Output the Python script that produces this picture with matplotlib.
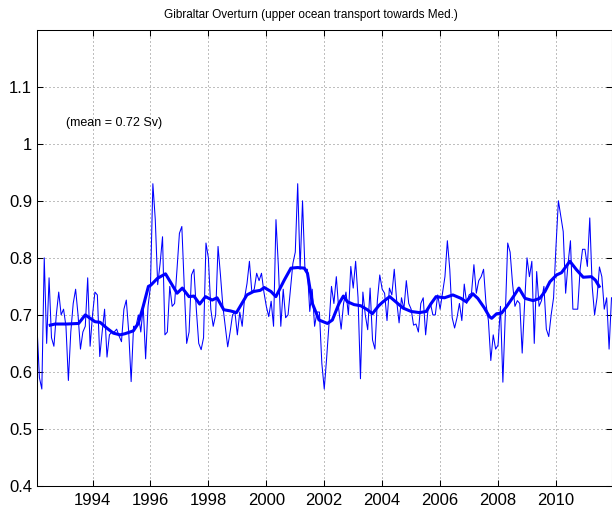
import numpy as np
import matplotlib
matplotlib.use("Agg")
import matplotlib.pyplot as plt

plt.rcParams['font.family'] = ['Liberation Sans', 'DejaVu Sans']

# Monthly upper-ocean transport towards the Mediterranean (Sv), Jan 1992 onwards
transport = [
    0.68, 0.59, 0.57, 0.80, 0.65, 0.765, 0.66, 0.645, 0.70, 0.74, 0.70, 0.71,
    0.68, 0.585, 0.67, 0.72, 0.745, 0.70, 0.64, 0.67, 0.68, 0.765, 0.645, 0.70,
    0.74, 0.735, 0.627, 0.67, 0.71, 0.626, 0.665, 0.67, 0.67, 0.675, 0.663, 0.653,
    0.71, 0.726, 0.67, 0.583, 0.68, 0.68, 0.70, 0.67, 0.715, 0.623, 0.715, 0.75,
    0.93, 0.867, 0.753, 0.79, 0.837, 0.665, 0.67, 0.75, 0.715, 0.72, 0.78, 0.843,
    0.855, 0.75, 0.65, 0.67, 0.77, 0.78, 0.71, 0.65, 0.639, 0.66, 0.826, 0.80,
    0.71, 0.68, 0.70, 0.82, 0.77, 0.715, 0.68, 0.644, 0.67, 0.70, 0.705, 0.665,
    0.705, 0.68, 0.73, 0.755, 0.794, 0.74, 0.745, 0.773, 0.76, 0.773, 0.74, 0.715,
    0.697, 0.724, 0.68, 0.867, 0.785, 0.68, 0.745, 0.695, 0.70, 0.745, 0.79, 0.81,
    0.93, 0.78, 0.90, 0.78, 0.78, 0.706, 0.745, 0.68, 0.705, 0.705, 0.615, 0.57,
    0.625, 0.686, 0.75, 0.72, 0.767, 0.71, 0.675, 0.72, 0.74, 0.70, 0.785, 0.747,
    0.794, 0.73, 0.588, 0.74, 0.70, 0.674, 0.747, 0.656, 0.64, 0.725, 0.77, 0.745,
    0.738, 0.69, 0.747, 0.735, 0.78, 0.725, 0.686, 0.73, 0.71, 0.76, 0.72, 0.71,
    0.682, 0.684, 0.67, 0.72, 0.73, 0.665, 0.71, 0.72, 0.70, 0.70, 0.735, 0.71,
    0.738, 0.767, 0.83, 0.78, 0.695, 0.677, 0.695, 0.72, 0.69, 0.754, 0.72, 0.735,
    0.738, 0.788, 0.738, 0.76, 0.767, 0.78, 0.72, 0.69, 0.62, 0.665, 0.64, 0.647,
    0.715, 0.582, 0.70, 0.826, 0.81, 0.755, 0.715, 0.725, 0.72, 0.633, 0.72, 0.80,
    0.767, 0.794, 0.65, 0.776, 0.715, 0.725, 0.75, 0.675, 0.662, 0.70, 0.73, 0.82,
    0.90, 0.873, 0.846, 0.738, 0.79, 0.83, 0.71, 0.71, 0.71, 0.78, 0.815, 0.815,
    0.785, 0.87, 0.75, 0.70, 0.73, 0.784, 0.767, 0.71, 0.73, 0.64, 0.73,
]
months = np.arange(1, len(transport) + 1)
time = 1992 + months / 12.0

# Low-pass (annual) transport
smooth_time = [
    1992.54, 1992.71, 1993.12, 1993.52, 1993.75, 1994.09, 1994.26, 1994.49,
    1994.72, 1994.95, 1995.12, 1995.41, 1995.58, 1995.75, 1995.93, 1996.01,
    1996.24, 1996.52, 1996.92, 1997.10, 1997.33, 1997.50, 1997.70, 1997.90,
    1998.13, 1998.30, 1998.53, 1998.76, 1998.97, 1999.33, 1999.56, 1999.79,
    1999.93, 2000.16, 2000.33, 2000.62, 2000.85, 2001.08, 2001.31, 2001.42,
    2001.59, 2001.82, 2002.11, 2002.28, 2002.51, 2002.66, 2002.80, 2003.03,
    2003.26, 2003.49, 2003.66, 2003.88, 2004.03, 2004.26, 2004.49, 2004.72,
    2005.00, 2005.29, 2005.52, 2005.69, 2005.86, 2006.15, 2006.44, 2006.72,
    2006.90, 2007.13, 2007.30, 2007.53, 2007.70, 2007.78, 2007.95, 2008.12,
    2008.30, 2008.53, 2008.72, 2008.93, 2009.21, 2009.44, 2009.62, 2009.79,
    2010.02, 2010.19, 2010.48, 2010.71, 2010.94, 2011.22, 2011.36, 2011.49,
]
smooth_transport = [
    0.682, 0.684, 0.684, 0.685, 0.700, 0.688, 0.687, 0.677,
    0.668, 0.665, 0.667, 0.672, 0.685, 0.715, 0.750, 0.752,
    0.764, 0.772, 0.738, 0.747, 0.732, 0.733, 0.719, 0.732,
    0.726, 0.730, 0.709, 0.707, 0.704, 0.735, 0.741, 0.743,
    0.748, 0.741, 0.732, 0.761, 0.782, 0.783, 0.782, 0.773,
    0.720, 0.691, 0.685, 0.691, 0.720, 0.733, 0.723, 0.718,
    0.716, 0.709, 0.702, 0.716, 0.723, 0.732, 0.722, 0.712,
    0.706, 0.704, 0.706, 0.720, 0.732, 0.730, 0.735, 0.729,
    0.723, 0.737, 0.729, 0.712, 0.697, 0.694, 0.702, 0.703,
    0.715, 0.732, 0.747, 0.729, 0.725, 0.729, 0.741, 0.758,
    0.770, 0.774, 0.794, 0.779, 0.766, 0.767, 0.761, 0.750,
]

x_ticks = [1994, 1996, 1998, 2000, 2002, 2004, 2006, 2008, 2010]
y_ticks = [0.4, 0.5, 0.6, 0.7, 0.8, 0.9, 1.0, 1.1]
y_tick_labels = ['0.4', '0.5', '0.6', '0.7', '0.8', '0.9', '1', '1.1']

fig = plt.figure(figsize=(6.12, 5.09), dpi=100)
ax = fig.add_axes([37 / 612, 23 / 509, 574.5 / 612, 456.3 / 509])

ax.plot(time, transport, color='#0000ff', linewidth=0.75)
ax.plot(smooth_time, smooth_transport, color='#0000ff', linewidth=2.2,
        solid_joinstyle='round')

ax.set_xlim(time[0], time[-1])
ax.set_ylim(0.4, 1.2)
ax.set_xticks(x_ticks)
ax.set_xticklabels([str(v) for v in x_ticks])
ax.set_yticks(y_ticks)
ax.set_yticklabels(y_tick_labels)

ax.grid(True, color='0.5', linestyle=(0, (1, 3)), linewidth=0.72)
ax.tick_params(direction='in', length=4.5, width=0.75, top=True, right=True,
               labelsize=12, colors='black')
ax.tick_params(axis='x', pad=5)
ax.tick_params(axis='y', pad=3.5)
for spine in ax.spines.values():
    spine.set_linewidth(0.75)
    spine.set_color('black')

fig.text(311 / 612, 1 - 20.7 / 509,
         'Gibraltar Overturn (upper ocean transport towards Med.)',
         fontsize=8.5, ha='center', va='bottom')
ax.text(1993.1, 1.036, '(mean = 0.72 Sv)', fontsize=9, va='center', ha='left')

fig.savefig('out.png', dpi=100, facecolor='white')
